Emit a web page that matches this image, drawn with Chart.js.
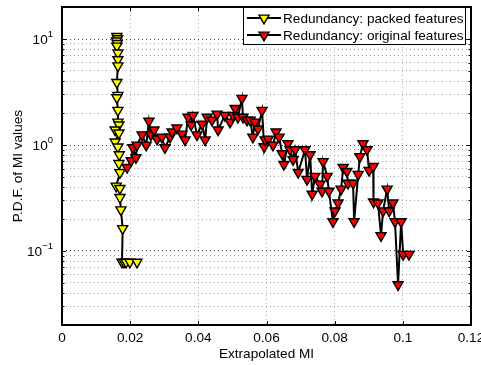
<!DOCTYPE html>
<html>

<head>
    <meta charset="UTF-8">
    <script src="https://cdn.jsdelivr.net/npm/chart.js"></script>
    <style>
        body { margin: 0; background: #fff; }
    </style>
</head>

<body>
    <canvas id="pdfChart" width="481" height="365"></canvas>
    <script>
        // Redundancy: packed features (yellow markers)
        const packedX = [0.0161, 0.0163, 0.0160, 0.0162, 0.0161, 0.0164, 0.0164, 0.0164, 0.0161, 0.0164,
            0.0161, 0.0164, 0.0164, 0.0167, 0.0156, 0.0167, 0.0156, 0.0164, 0.0168, 0.0167,
            0.0170, 0.0159, 0.0170, 0.0170, 0.0173, 0.0178, 0.0176, 0.0182, 0.0188, 0.0199, 0.0220];
        const packedY = [10.6, 10.1, 9.6, 9.1, 8.6, 7.4, 6.4, 5.6, 3.9, 2.95,
            2.8, 2.13, 1.65, 1.55, 1.39, 1.30, 1.07, 0.96, 0.81, 0.67,
            0.55, 0.41, 0.39, 0.32, 0.245, 0.163, 0.0785, 0.0785, 0.0785, 0.0785, 0.0785];

        // Redundancy: original features (red markers)
        const originalX = [0.0191, 0.0203, 0.0208, 0.0217, 0.0220, 0.0235, 0.0247, 0.0255, 0.0261, 0.0270,
            0.0279, 0.0293, 0.0302, 0.0317, 0.0323, 0.0337, 0.0352, 0.0361, 0.0370, 0.0379,
            0.0384, 0.0396, 0.0411, 0.0420, 0.0426, 0.0440, 0.0455, 0.0458, 0.0478, 0.0493,
            0.0502, 0.0508, 0.0516, 0.0528, 0.0531, 0.0543, 0.0552, 0.0560, 0.0566, 0.0575,
            0.0587, 0.0593, 0.0596, 0.0605, 0.0619, 0.0628, 0.0637, 0.0646, 0.0651, 0.0663,
            0.0669, 0.0678, 0.0684, 0.0693, 0.0713, 0.0719, 0.0728, 0.0734, 0.0742, 0.0757,
            0.0763, 0.0766, 0.0778, 0.0783, 0.0795, 0.0801, 0.0810, 0.0819, 0.0825, 0.0836,
            0.0839, 0.0854, 0.0857, 0.0869, 0.0874, 0.0883, 0.0895, 0.0901, 0.0913, 0.0914,
            0.0927, 0.0936, 0.0942, 0.0954, 0.0960, 0.0971, 0.0977, 0.0986, 0.0995, 0.1001, 0.1018];
        const originalY = [0.615, 0.714, 0.944, 0.762, 1.0, 1.25, 1.0, 1.68, 1.25, 1.39,
            1.14, 1.19, 0.944, 1.19, 1.33, 1.45, 1.27, 1.12, 1.83, 1.55,
            1.91, 1.25, 1.58, 1.12, 1.83, 1.72, 1.96, 1.39, 1.91, 1.65,
            1.91, 2.22, 1.83, 2.76, 1.83, 1.72, 1.72, 1.19, 1.65, 1.42,
            2.13, 0.964, 1.12, 1.14, 1.0, 1.33, 1.19, 0.830, 0.656, 1.03,
            0.904, 0.730, 0.904, 0.552, 0.904, 0.475, 0.812, 0.344, 0.507, 0.427,
            0.367, 0.699, 0.507, 0.367, 0.189, 0.239, 0.284, 0.384, 0.615, 0.564,
            0.436, 0.436, 0.189, 0.529, 0.778, 1.03, 0.904, 0.576, 0.628, 0.290,
            0.284, 0.140, 0.239, 0.384, 0.239, 0.284, 0.189, 0.048, 0.189, 0.093, 0.093];

        const seriesLabels = ["Redundancy: packed features", "Redundancy: original features"];
        const xTicks = [0, 0.02, 0.04, 0.06, 0.08, 0.1, 0.12];
        const yMajorTicks = [0.1, 1, 10];
        const yRange = [0.02, 20];

        const FONT = '"Liberation Sans", Arial, sans-serif';
        const FSIZE = 13.6;
        Chart.defaults.font.family = FONT;
        Chart.defaults.font.size = FSIZE;
        Chart.defaults.color = "#000";

        function toPoints(xs, ys) {
            return xs.map((x, i) => ({ x: x, y: ys[i] }));
        }

        // log minor ticks 2..9 inside each decade
        function logTicks(min, max) {
            let out = [];
            for (let e = Math.floor(Math.log10(min)); e <= Math.ceil(Math.log10(max)); e++) {
                for (let m = 1; m < 10; m++) {
                    const v = +(m * Math.pow(10, e)).toPrecision(6);
                    if (v >= min && v <= max) out.push({ value: v });
                }
            }
            return out;
        }

        // box, inward ticks, superscript y labels and the in-plot legend
        const matlabAxes = {
            id: "matlabAxes",
            afterDraw(chart) {
                const { ctx, chartArea: a, scales: { x, y } } = chart;
                ctx.save();
                ctx.strokeStyle = "#000";
                ctx.lineWidth = 1;
                ctx.beginPath();
                x.ticks.forEach(t => {
                    const px = Math.round(x.getPixelForValue(t.value)) + 0.5;
                    ctx.moveTo(px, a.bottom); ctx.lineTo(px, a.bottom - 4);
                    ctx.moveTo(px, a.top); ctx.lineTo(px, a.top + 4);
                });
                y.ticks.forEach(t => {
                    const len = yMajorTicks.includes(t.value) ? 4 : 2.5;
                    const py = Math.round(y.getPixelForValue(t.value)) + 0.5;
                    ctx.moveTo(a.left, py); ctx.lineTo(a.left + len, py);
                    ctx.moveTo(a.right, py); ctx.lineTo(a.right - len, py);
                });
                ctx.stroke();

                ctx.lineWidth = 2;
                ctx.strokeRect(Math.round(a.left), Math.round(a.top), Math.round(a.right - a.left), Math.round(a.bottom - a.top));

                // y tick labels as 10^n
                ctx.fillStyle = "#000";
                ctx.textAlign = "left";
                ctx.textBaseline = "middle";
                yMajorTicks.forEach(v => {
                    const py = y.getPixelForValue(v);
                    const ex = String(Math.round(Math.log10(v))).replace("-", "\u2212");
                    ctx.font = "9.5px " + FONT;
                    const we = ctx.measureText(ex).width;
                    ctx.font = FSIZE + "px " + FONT;
                    const wb = ctx.measureText("10").width;
                    const right = a.left - 9;
                    ctx.fillText("10", right - we - wb, py + 1);
                    ctx.font = "9.5px " + FONT;
                    ctx.fillText(ex, right - we, py - 5);
                });

                // legend
                const lx = 243, ly = 7, lw = 222, lh = 37;
                ctx.fillStyle = "#fff";
                ctx.fillRect(lx, ly, lw, lh);
                ctx.lineWidth = 1;
                ctx.strokeRect(lx + 0.5, ly + 0.5, lw, lh);
                chart.data.datasets.forEach((ds, i) => {
                    const cy = ly + 11 + i * 17;
                    ctx.strokeStyle = ds.borderColor;
                    ctx.lineWidth = ds.borderWidth;
                    ctx.beginPath();
                    ctx.moveTo(lx + 4, cy); ctx.lineTo(lx + 38, cy);
                    ctx.stroke();
                    ctx.fillStyle = ds.pointBackgroundColor;
                    ctx.strokeStyle = ds.pointBorderColor;
                    ctx.lineWidth = ds.pointBorderWidth;
                    Chart.helpers.drawPoint(ctx, {
                        pointStyle: ds.pointStyle, rotation: ds.pointRotation,
                        radius: ds.pointRadius, borderWidth: ds.pointBorderWidth
                    }, lx + 21, cy);
                    ctx.fillStyle = "#000";
                    ctx.font = FSIZE + "px " + FONT;
                    ctx.textBaseline = "middle";
                    ctx.fillText(ds.label, lx + 40, cy + 1);
                });
                ctx.restore();
            }
        };

        function seriesStyle(label, data, color) {
            return {
                label: label,
                data: data,
                borderColor: "#000",
                borderWidth: 2,
                pointStyle: "triangle",
                pointRotation: 180,
                pointRadius: 5.8,
                pointBackgroundColor: color,
                pointBorderColor: "#000",
                pointBorderWidth: 1.4,
                tension: 0,
                fill: false,
            };
        }

        const pdfConfig = {
            type: "line",
            data: {
                datasets: [
                    seriesStyle(seriesLabels[0], toPoints(packedX, packedY), "#ffff00"),
                    seriesStyle(seriesLabels[1], toPoints(originalX, originalY), "#ff0000"),
                ],
            },
            options: {
                responsive: false,
                animation: false,
                layout: { padding: { top: 4, right: 10, left: 0, bottom: 0 } },
                plugins: { legend: { display: false }, tooltip: { enabled: false } },
                scales: {
                    x: {
                        type: "linear",
                        min: xTicks[0],
                        max: xTicks[xTicks.length - 1],
                        afterBuildTicks: s => { s.ticks = xTicks.map(v => ({ value: v })); },
                        afterFit: s => { s.height = 40; s.paddingLeft = 0; s.paddingRight = 0; },
                        ticks: {
                            padding: 5,
                            autoSkip: false,
                            maxRotation: 0,
                            callback: v => String(+v.toFixed(2)),
                        },
                        grid: { color: "#aaa", drawTicks: false },
                        border: { display: false, dash: [1, 3] },
                        title: { display: true, text: "Extrapolated MI", padding: { top: 0, bottom: 3 } },
                    },
                    y: {
                        type: "logarithmic",
                        min: yRange[0],
                        max: yRange[1],
                        afterBuildTicks: s => { s.ticks = logTicks(yRange[0], yRange[1]); },
                        afterFit: s => { s.width = 62; s.paddingTop = 0; s.paddingBottom = 0; },
                        ticks: { display: false },
                        grid: {
                            color: c => (c.tick && yMajorTicks.includes(c.tick.value)) ? "#444" : "#aaa",
                            drawTicks: false,
                        },
                        border: { display: false, dash: [1, 3] },
                        title: { display: true, text: "P.D.F. of MI values", padding: { top: 10, bottom: 0 } },
                    },
                },
            },
            plugins: [matlabAxes],
        };

        new Chart(document.getElementById("pdfChart"), pdfConfig);
    </script>
</body>

</html>
